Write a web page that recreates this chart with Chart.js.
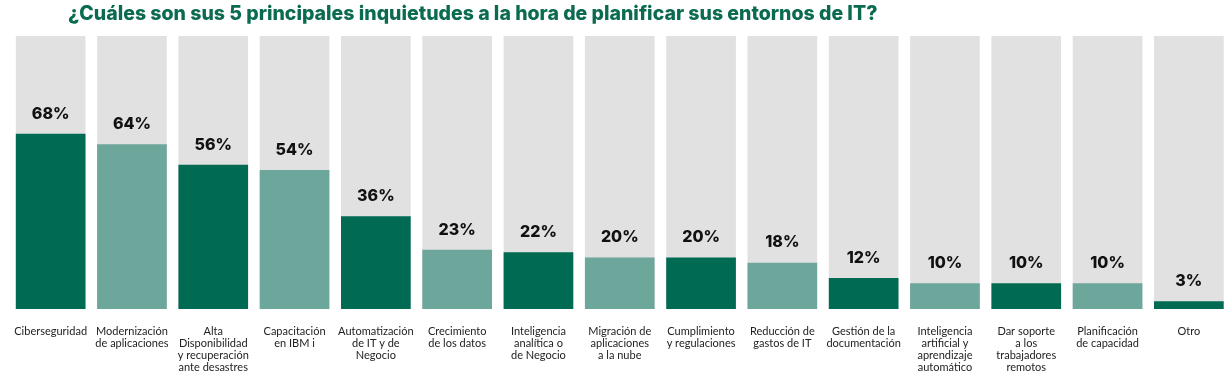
<!DOCTYPE html>
<html>
<head>
<meta charset="utf-8">
<script src="https://cdn.jsdelivr.net/npm/chart.js@4/dist/chart.umd.min.js"></script>
<style>
  html, body { margin: 0; padding: 0; background: #ffffff; }
  #wrap { position: relative; width: 1232px; height: 383px; }
</style>
</head>
<body>
<div id="wrap"><canvas id="c" width="1232" height="383"></canvas></div>
<script>
const titleText = "¿Cuáles son sus 5 principales inquietudes a la hora de planificar sus entornos de IT?";
const categories = [
  ["Ciberseguridad"],
  ["Modernización", "de aplicaciones"],
  ["Alta", "Disponibilidad", "y recuperación", "ante desastres"],
  ["Capacitación", "en IBM i"],
  ["Automatización", "de IT y de", "Negocio"],
  ["Crecimiento", "de los datos"],
  ["Inteligencia", "analítica o", "de Negocio"],
  ["Migración de", "aplicaciones", "a la nube"],
  ["Cumplimiento", "y regulaciones"],
  ["Reducción de", "gastos de IT"],
  ["Gestión de la", "documentación"],
  ["Inteligencia", "artificial y", "aprendizaje", "automático"],
  ["Dar soporte", "a los", "trabajadores", "remotos"],
  ["Planificación", "de capacidad"],
  ["Otro"]
];
const values = [68, 64, 56, 54, 36, 23, 22, 20, 20, 18, 12, 10, 10, 10, 3];
const backgroundValue = 106;
const darkGreen = "#006A52";
const lightGreen = "#6DA69A";
const barColors = values.map((v, i) => (i % 2 === 0 ? darkGreen : lightGreen));

const labelPlugin = {
  id: "pctLabels",
  afterDatasetsDraw(chart) {
    const ctx = chart.ctx;
    const meta = chart.getDatasetMeta(0);
    ctx.save();
    ctx.font = "800 16px Inter, 'Open Sans', sans-serif";
    ctx.fillStyle = "#111111";
    ctx.textAlign = "center";
    ctx.textBaseline = "middle";
    meta.data.forEach((bar, i) => {
      ctx.fillText(values[i] + "%", bar.x, bar.y - 20);
    });
    ctx.restore();
  }
};

const titlePlugin = {
  id: "titleDraw",
  afterDraw(chart) {
    const ctx = chart.ctx;
    ctx.save();
    ctx.font = "800 19.5px Inter, 'Open Sans', sans-serif";
    ctx.fillStyle = "#0B6B50";
    ctx.textAlign = "left";
    ctx.textBaseline = "middle";
    ctx.fillText(titleText, 68, 14);
    ctx.restore();
  }
};

new Chart(document.getElementById("c"), {
  type: "bar",
  data: {
    labels: categories,
    datasets: [
      {
        data: values,
        backgroundColor: barColors,
        order: 1,
        categoryPercentage: 1,
        barPercentage: 0.857,
        borderWidth: 0
      },
      {
        data: values.map(() => backgroundValue),
        backgroundColor: "#E1E1E1",
        order: 2,
        categoryPercentage: 1,
        barPercentage: 0.857,
        borderWidth: 0
      }
    ]
  },
  plugins: [labelPlugin, titlePlugin],
  options: {
    responsive: false,
    animation: false,
    devicePixelRatio: 1,
    layout: { padding: { left: 10, right: 2.5, top: 36, bottom: 0 } },
    plugins: {
      legend: { display: false },
      tooltip: { enabled: false },
      title: { display: false }
    },
    datasets: { bar: { grouped: false } },
    scales: {
      x: {
        grid: { display: false },
        border: { display: false },
        ticks: {
          color: "#222222",
          font: { family: "Lato, 'Noto Sans', sans-serif", size: 11, lineHeight: 1.1 },
          padding: 8,
          maxRotation: 0,
          autoSkip: false
        },
        afterFit(scale) { scale.height = 74; }
      },
      y: {
        display: false,
        min: 0,
        max: backgroundValue
      }
    }
  }
});
</script>
</body>
</html>
